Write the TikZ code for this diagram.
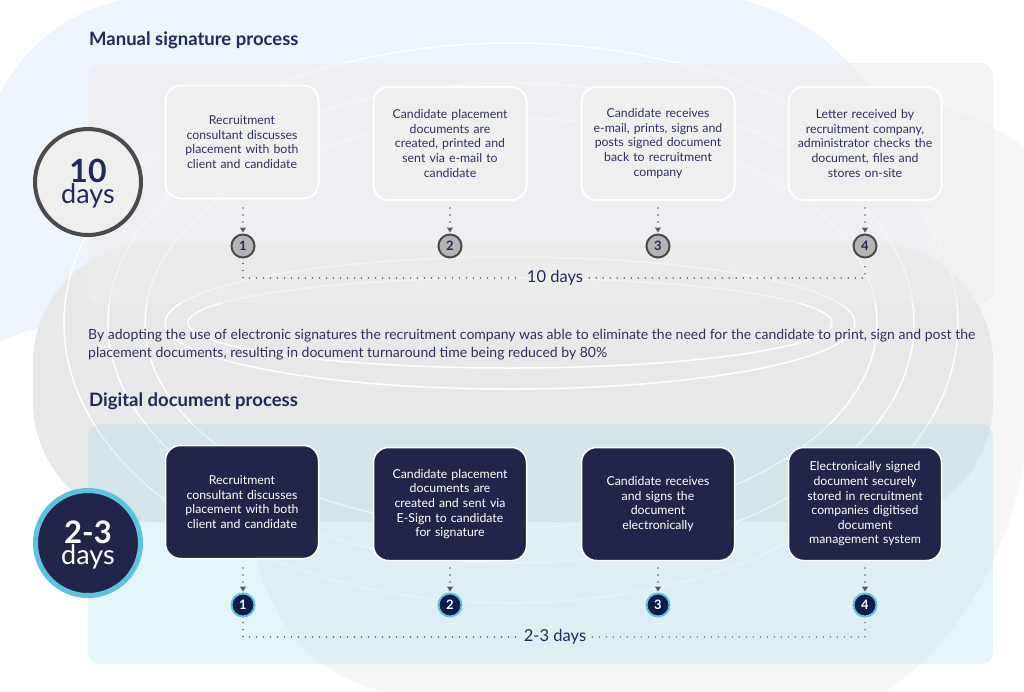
\documentclass[tikz,border=0pt]{standalone}
\usepackage{fontspec}
\setmainfont{Lato}
\usetikzlibrary{arrows.meta}
\definecolor{navy}{HTML}{1F2A5E}
\definecolor{txt}{HTML}{2E325E}
\definecolor{boxdark}{HTML}{23244A}
\definecolor{cyanring}{HTML}{5BC2DF}
\definecolor{numdark}{HTML}{0F1A4D}
\definecolor{ringgrey}{HTML}{4B4B4B}
\definecolor{boxlight}{HTML}{EFEFEF}
\definecolor{numgrey}{HTML}{B4B4B4}
\definecolor{blueblob}{HTML}{EEF4FB}
\definecolor{greyblob}{HTML}{E8E8E8}
\definecolor{lightblob}{HTML}{F6F6F6}
\definecolor{panelgrey}{HTML}{EDEDED}
\definecolor{panelcyan}{RGB}{168,222,238}
\definecolor{dotcol}{HTML}{5A5D78}
\begin{document}
\begin{tikzpicture}[x=1pt,y=-1pt,
  topbox/.style={draw=white, line width=2pt, fill=boxlight, rounded corners=15pt,
    minimum width=153pt, minimum height=113pt, text width=150pt, align=center,
    text=txt, font=\fontsize{12.3}{14.6}\selectfont, inner sep=0pt},
  botbox/.style={topbox, fill=boxdark, text=white, line width=1.5pt},
  numtop/.style={circle, draw=ringgrey, line width=2pt, fill=numgrey, minimum size=23pt,
    inner sep=0pt, text=navy, font=\bfseries\fontsize{13}{13}\selectfont},
  numbot/.style={circle, draw=cyanring, line width=2pt, fill=numdark, minimum size=23pt,
    inner sep=0pt, text=white, font=\bfseries\fontsize{13}{13}\selectfont},
  dotline/.style={draw=dotcol, line width=1.6pt, dash pattern=on 0pt off 7pt, line cap=round},
  dotarrow/.style={dotline, -{Triangle[width=6pt,length=5pt,fill=navy]}, shorten >=1pt},
  title/.style={anchor=west, inner sep=0pt, text=navy, font=\bfseries\fontsize{18.5}{21}\selectfont},
  daylabel/.style={fill=none, inner sep=6pt, text=navy, font=\fontsize{16.5}{18}\selectfont},
  bigtext/.style={align=center, inner sep=0pt},
  whiteline/.style={draw=white, line width=1.5pt}
]
\useasboundingbox (0,0) rectangle (1024,691);
\fill[white] (0,0) rectangle (1024,691);
% background blobs
\fill[lightblob] (240,470) .. controls (250,600) and (300,690) .. (420,696) -- (880,696)
  .. controls (960,640) and (1010,560) .. (1028,440) -- (1028,150)
  .. controls (990,120) and (940,100) .. (880,100) -- (400,100) -- cycle;
\fill[blueblob] (-2,97) .. controls (30,35) and (85,0) .. (147,-2) -- (733,-2)
  .. controls (820,15) and (880,80) .. (910,170) .. controls (930,230) and (940,280) .. (945,320)
  -- (120,320) .. controls (60,320) and (20,330) .. (-2,343) -- cycle;
\fill[greyblob, rounded corners=120pt] (33,243) rectangle (993,522);
% white rings
\draw[whiteline] (511,323) ellipse [x radius=447pt, y radius=280pt];
\draw[whiteline] (511,323) ellipse [x radius=403pt, y radius=240pt];
\draw[whiteline] (511,323) ellipse [x radius=366pt, y radius=205pt];
\draw[whiteline] (510,323) ellipse [x radius=345pt, y radius=66pt];
\draw[whiteline] (510,323) ellipse [x radius=322pt, y radius=45pt];
% panels
\fill[panelgrey, fill opacity=0.6, rounded corners=12pt] (88,63) rectangle (993,303);
\fill[panelcyan, fill opacity=0.3, rounded corners=12pt] (88,424) rectangle (993,664);
% titles
\node[title] (tman) at (89,40) {Manual signature process};
\node[title] (tdig) at (89,401) {Digital document process};
% big circles
\node[circle, draw=ringgrey, line width=4pt, fill=boxlight, minimum size=106pt] (bc1) at (88,182) {};
\node[bigtext, text=navy] (bc1t) at (88,184)
  {\bfseries\fontsize{32}{32}\selectfont 10\\\mdseries\fontsize{27}{28}\selectfont days};
\node[circle, draw=cyanring, line width=5pt, fill=boxdark, minimum size=105pt] (bc2) at (88,543) {};
\node[bigtext, text=white] (bc2t) at (88,545)
  {\bfseries\fontsize{31}{31}\selectfont 2-3\\\mdseries\fontsize{27}{28}\selectfont days};
% top boxes
\node[topbox] (t1) at (242,142) {Recruitment\\consultant discusses\\placement with both\\client and candidate};
\node[topbox] (t2) at (450,143.5) {Candidate placement\\documents are\\created, printed and\\sent via e-mail to\\candidate};
\node[topbox] (t3) at (658,143.5) {Candidate receives\\e-mail, prints, signs and\\posts signed document\\back to recruitment\\company};
\node[topbox] (t4) at (865,143.5) {Letter received by\\recruitment company,\\administrator checks the\\document, files and\\stores on-site};
\node[numtop] (n1) at (243,246) {1};
\node[numtop] (n2) at (450,246) {2};
\node[numtop] (n3) at (658,246) {3};
\node[numtop] (n4) at (865,246) {4};
\foreach \i in {1,2,3,4}{
  \draw[dotarrow] ([yshift=-8pt]n\i |- 0,200) -- (n\i.north);
}
\node[daylabel] (lab1) at (555,278) {10 days};
\coordinate (h1) at (243,278);
\coordinate (h4) at (865,278);
\draw[dotline] ([yshift=-5pt]n1.south) -- (h1) -- (lab1.west);
\draw[dotline] (lab1.east) -- (h4) -- ([yshift=-5pt]n4.south);
% summary
\node[anchor=west, align=left, inner sep=0pt, text=txt, font=\fontsize{14}{18}\selectfont] (summary) at (88,345)
  {By adopting the use of electronic signatures the recruitment company was able to eliminate the need for the candidate to print, sign and post the\\placement documents, resulting in document turnaround time being reduced by 80\%};
% bottom boxes
\node[botbox] (b1) at (242,502) {Recruitment\\consultant discusses\\placement with both\\client and candidate};
\node[botbox] (b2) at (450,504) {Candidate placement\\documents are\\created and sent via\\E-Sign to candidate\\for signature};
\node[botbox] (b3) at (658,504) {Candidate receives\\and signs the\\document\\electronically};
\node[botbox] (b4) at (865,504) {Electronically signed\\document securely\\stored in recruitment\\companies digitised\\document\\management system};
\node[numbot] (m1) at (243,605) {1};
\node[numbot] (m2) at (450,605) {2};
\node[numbot] (m3) at (658,605) {3};
\node[numbot] (m4) at (865,605) {4};
\foreach \i in {1,2,3,4}{
  \draw[dotarrow] ([yshift=-8pt]m\i |- 0,560) -- (m\i.north);
}
\node[daylabel] (lab2) at (555,637) {2-3 days};
\coordinate (k1) at (243,637);
\coordinate (k4) at (865,637);
\draw[dotline] ([yshift=-5pt]m1.south) -- (k1) -- (lab2.west);
\draw[dotline] (lab2.east) -- (k4) -- ([yshift=-5pt]m4.south);
\end{tikzpicture}
\end{document}
